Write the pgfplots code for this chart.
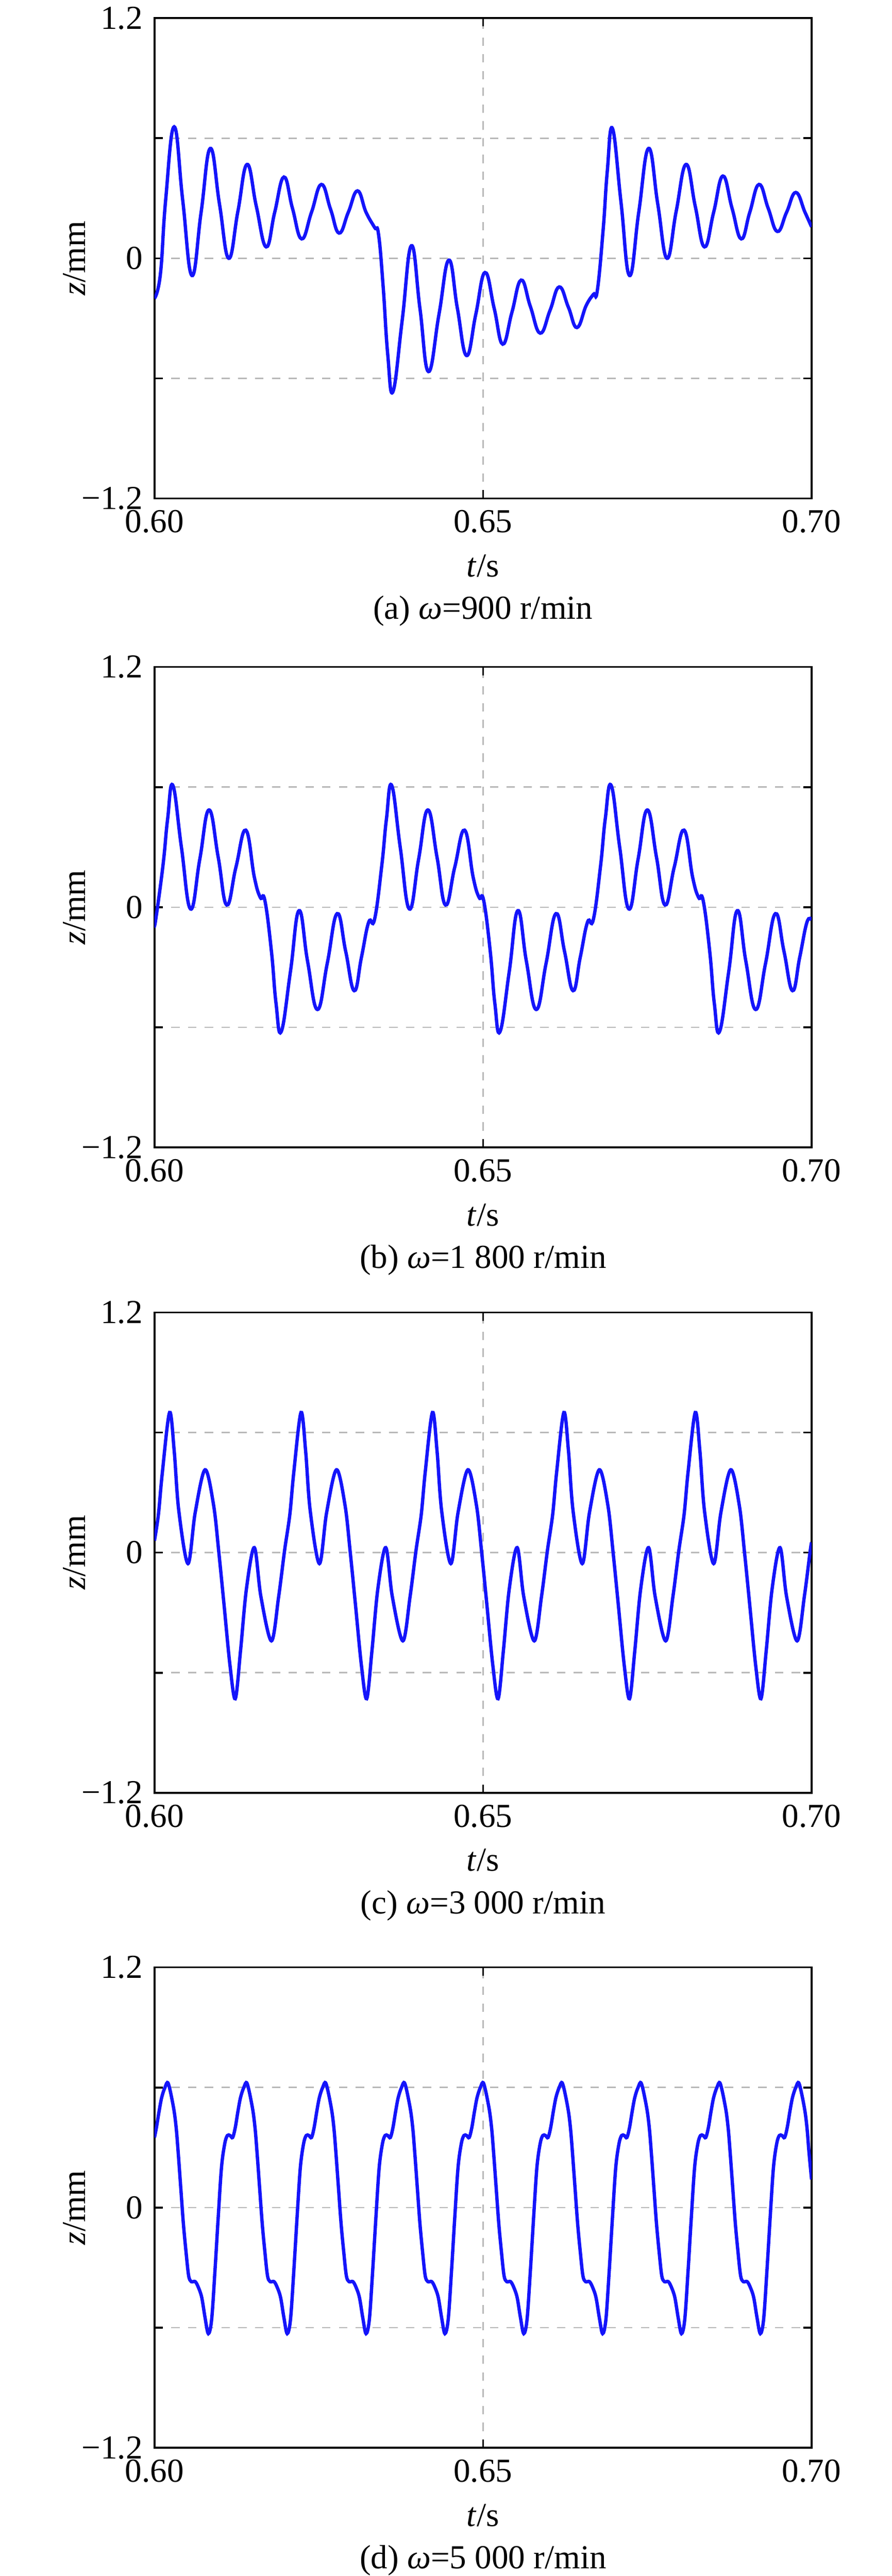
\documentclass[border=0pt]{standalone}
\usepackage{fontspec}
\setmainfont{Liberation Serif}
\usepackage{pgfplots}
\pgfplotsset{compat=1.18}
\definecolor{gridgray}{gray}{0.72}
\definecolor{curve}{rgb}{0.08,0.08,0.98}
\pgfplotsset{
 panel/.style={
  scale only axis, width=195.9pt, height=143.25pt,
  xmin=0.6, xmax=0.7, ymin=-1.2, ymax=1.2,
  xtick={0.6,0.65,0.7}, xticklabels={0.60,0.65,0.70},
  ytick={-1.2,-0.6,0,0.6,1.2}, yticklabels={−1.2,,0,,1.2},
  grid=major,
  grid style={gridgray, line width=0.4pt, dash pattern=on 2.5pt off 2.5pt},
  axis line style={line width=0.55pt},
  every tick/.style={black, line width=0.55pt},
  major tick length=2.5pt,
  /pgf/number format/assume math mode=true,
  xlabel={\textit{t}/s}, ylabel={\textit{z}/mm},
  xlabel style={at={(axis description cs:0.5,-0.1403)}, anchor=center},
  ylabel style={at={(axis description cs:-0.1215,0.5)}, anchor=center},
  title style={at={(axis description cs:0.5,-0.2346)}, anchor=center, yshift=-6pt},
 },
 wave/.style={curve, line width=1.0pt, smooth, tension=0.75},
 wavec/.style={curve, line width=1.0pt, smooth, tension=0.55},
}
\begin{document}
\begin{tikzpicture}
\path[use as bounding box] (0,0) rectangle (265.8pt,-768.15pt);

% (a)
\begin{axis}[panel, at={(46.05pt,-5.4pt)}, anchor=north west,
  title={(a) \textit{ω}=900 r/min}]
\addplot[wave] table {
t z
0.6000 -0.20
0.6009 -0.08
0.6017 0.29
0.6030 0.657
0.6043 0.29
0.6057 -0.086
0.6071 0.23
0.6085 0.549
0.6099 0.27
0.6113 0.0
0.6127 0.235
0.6141 0.469
0.6155 0.26
0.6170 0.057
0.6183 0.23
0.6197 0.406
0.6210 0.25
0.6224 0.097
0.6239 0.23
0.6254 0.369
0.6268 0.245
0.6281 0.126
0.6295 0.23
0.6309 0.337
0.6322 0.23
0.6335 0.154
0.6341 0.12
0.6348 -0.14
0.6355 -0.48
0.6363 -0.666
0.6377 -0.31
0.6391 0.063
0.6404 -0.25
0.6417 -0.566
0.6433 -0.28
0.6448 -0.009
0.6461 -0.25
0.6475 -0.486
0.6489 -0.28
0.6503 -0.071
0.6517 -0.25
0.6530 -0.429
0.6544 -0.27
0.6558 -0.109
0.6572 -0.24
0.6587 -0.374
0.6602 -0.26
0.6616 -0.143
0.6630 -0.245
0.6643 -0.346
0.6657 -0.236
0.6668 -0.18
0.6674 -0.16
0.6683 0.15
0.6689 0.43
0.6697 0.649
0.6710 0.28
0.6723 -0.086
0.6737 0.23
0.6752 0.549
0.6766 0.27
0.6780 0.0
0.6794 0.235
0.6809 0.469
0.6823 0.26
0.6837 0.057
0.6851 0.23
0.6865 0.411
0.6879 0.25
0.6893 0.097
0.6906 0.23
0.6920 0.369
0.6934 0.25
0.6948 0.134
0.6962 0.23
0.6976 0.329
0.6990 0.23
0.7000 0.157
};
\end{axis}

% (b)
\begin{axis}[panel, at={(46.05pt,-198.9pt)}, anchor=north west,
  title={(b) \textit{ω}=1 800 r/min}]
\addplot[wave] table {
t z
0.6000 -0.08
0.6002 -0.06
0.6013 0.21
0.6020 0.44
0.6028 0.609
0.6041 0.30
0.6055 -0.009
0.6069 0.24
0.6083 0.486
0.6097 0.25
0.6110 0.011
0.6124 0.20
0.6139 0.385
0.6152 0.15
0.6161 0.049
0.6168 0.034
0.6178 -0.22
0.6185 -0.48
0.6193 -0.621
0.6207 -0.32
0.6220 -0.017
0.6233 -0.27
0.6248 -0.511
0.6263 -0.28
0.6278 -0.032
0.6291 -0.22
0.6304 -0.417
0.6315 -0.25
0.6326 -0.075
0.6335 -0.06
0.6346 0.21
0.6353 0.44
0.6361 0.609
0.6374 0.30
0.6388 -0.009
0.6402 0.24
0.6416 0.486
0.6430 0.25
0.6443 0.011
0.6457 0.20
0.6472 0.385
0.6485 0.15
0.6494 0.049
0.6501 0.034
0.6511 -0.22
0.6518 -0.48
0.6526 -0.621
0.6540 -0.32
0.6553 -0.017
0.6566 -0.27
0.6581 -0.511
0.6596 -0.28
0.6611 -0.032
0.6624 -0.22
0.6637 -0.417
0.6648 -0.25
0.6659 -0.075
0.6668 -0.06
0.6679 0.21
0.6686 0.44
0.6695 0.609
0.6708 0.30
0.6722 -0.009
0.6736 0.24
0.6750 0.486
0.6764 0.25
0.6777 0.011
0.6791 0.20
0.6806 0.385
0.6819 0.15
0.6828 0.049
0.6835 0.034
0.6845 -0.22
0.6852 -0.48
0.6860 -0.621
0.6874 -0.32
0.6887 -0.017
0.6900 -0.27
0.6915 -0.511
0.6930 -0.28
0.6945 -0.032
0.6958 -0.22
0.6971 -0.417
0.6982 -0.25
0.6993 -0.075
0.7000 -0.065
};
\end{axis}

% (c)
\begin{axis}[panel, at={(46.05pt,-391.35pt)}, anchor=north west,
  title={(c) \textit{ω}=3 000 r/min}]
\addplot[wavec] table {
t z
0.6000 0.06
0.6006 0.19
0.6012 0.40
0.6023 0.70
0.6030 0.51
0.6037 0.21
0.6051 -0.055
0.6062 0.20
0.6077 0.414
0.6090 0.237
0.6098 0.0
0.6106 -0.264
0.6115 -0.565
0.6123 -0.73
0.6131 -0.49
0.6140 -0.18
0.6152 0.025
0.6162 -0.22
0.6178 -0.441
0.6189 -0.22
0.6198 0.01
0.6206 0.19
0.6212 0.40
0.6223 0.70
0.6230 0.51
0.6237 0.21
0.6251 -0.055
0.6262 0.20
0.6277 0.414
0.6290 0.237
0.6298 0.0
0.6306 -0.264
0.6315 -0.565
0.6323 -0.73
0.6331 -0.49
0.6340 -0.18
0.6352 0.025
0.6362 -0.22
0.6378 -0.441
0.6389 -0.22
0.6398 0.01
0.6406 0.19
0.6412 0.40
0.6423 0.70
0.6430 0.51
0.6437 0.21
0.6451 -0.055
0.6462 0.20
0.6477 0.414
0.6490 0.237
0.6498 0.0
0.6506 -0.264
0.6515 -0.565
0.6523 -0.73
0.6531 -0.49
0.6540 -0.18
0.6552 0.025
0.6562 -0.22
0.6578 -0.441
0.6589 -0.22
0.6598 0.01
0.6606 0.19
0.6612 0.40
0.6623 0.70
0.6630 0.51
0.6637 0.21
0.6651 -0.055
0.6662 0.20
0.6677 0.414
0.6690 0.237
0.6698 0.0
0.6706 -0.264
0.6715 -0.565
0.6723 -0.73
0.6731 -0.49
0.6740 -0.18
0.6752 0.025
0.6762 -0.22
0.6778 -0.441
0.6789 -0.22
0.6798 0.01
0.6806 0.19
0.6812 0.40
0.6823 0.70
0.6830 0.51
0.6837 0.21
0.6851 -0.055
0.6862 0.20
0.6877 0.414
0.6890 0.237
0.6898 0.0
0.6906 -0.264
0.6915 -0.565
0.6923 -0.73
0.6931 -0.49
0.6940 -0.18
0.6952 0.025
0.6962 -0.22
0.6978 -0.441
0.6989 -0.22
0.6998 0.01
0.7000 0.05
};
\end{axis}

% (d)
\begin{axis}[panel, at={(46.05pt,-586.65pt)}, anchor=north west,
  title={(d) \textit{ω}=5 000 r/min}]
\addplot[wavec] table {
t z
0.6000 0.35
0.6003 0.40
0.6007 0.48
0.6011 0.55
0.6016 0.60
0.6021 0.62
0.6029 0.50
0.6033 0.40
0.6036 0.28
0.6040 0.10
0.6044 -0.08
0.6048 -0.22
0.6052 -0.34
0.6056 -0.37
0.6062 -0.37
0.6067 -0.40
0.6072 -0.45
0.6077 -0.55
0.6082 -0.63
0.6087 -0.56
0.6092 -0.32
0.6097 -0.05
0.6102 0.20
0.6107 0.32
0.6111 0.36
0.6115 0.36
0.6119 0.35
0.6123 0.40
0.6127 0.48
0.6131 0.55
0.6136 0.60
0.6141 0.62
0.6149 0.50
0.6153 0.40
0.6156 0.28
0.6160 0.10
0.6164 -0.08
0.6168 -0.22
0.6172 -0.34
0.6176 -0.37
0.6182 -0.37
0.6187 -0.40
0.6192 -0.45
0.6197 -0.55
0.6202 -0.63
0.6207 -0.56
0.6212 -0.32
0.6217 -0.05
0.6222 0.20
0.6227 0.32
0.6231 0.36
0.6235 0.36
0.6239 0.35
0.6243 0.40
0.6247 0.48
0.6251 0.55
0.6256 0.60
0.6261 0.62
0.6269 0.50
0.6273 0.40
0.6276 0.28
0.6280 0.10
0.6284 -0.08
0.6288 -0.22
0.6292 -0.34
0.6296 -0.37
0.6302 -0.37
0.6307 -0.40
0.6312 -0.45
0.6317 -0.55
0.6322 -0.63
0.6327 -0.56
0.6332 -0.32
0.6337 -0.05
0.6342 0.20
0.6347 0.32
0.6351 0.36
0.6355 0.36
0.6359 0.35
0.6363 0.40
0.6367 0.48
0.6371 0.55
0.6376 0.60
0.6381 0.62
0.6389 0.50
0.6393 0.40
0.6396 0.28
0.6400 0.10
0.6404 -0.08
0.6408 -0.22
0.6412 -0.34
0.6416 -0.37
0.6422 -0.37
0.6427 -0.40
0.6432 -0.45
0.6437 -0.55
0.6442 -0.63
0.6447 -0.56
0.6452 -0.32
0.6457 -0.05
0.6462 0.20
0.6467 0.32
0.6471 0.36
0.6475 0.36
0.6479 0.35
0.6483 0.40
0.6487 0.48
0.6491 0.55
0.6496 0.60
0.6501 0.62
0.6509 0.50
0.6513 0.40
0.6516 0.28
0.6520 0.10
0.6524 -0.08
0.6528 -0.22
0.6532 -0.34
0.6536 -0.37
0.6542 -0.37
0.6547 -0.40
0.6552 -0.45
0.6557 -0.55
0.6562 -0.63
0.6567 -0.56
0.6572 -0.32
0.6577 -0.05
0.6582 0.20
0.6587 0.32
0.6591 0.36
0.6595 0.36
0.6599 0.35
0.6603 0.40
0.6607 0.48
0.6611 0.55
0.6616 0.60
0.6621 0.62
0.6629 0.50
0.6633 0.40
0.6636 0.28
0.6640 0.10
0.6644 -0.08
0.6648 -0.22
0.6652 -0.34
0.6656 -0.37
0.6662 -0.37
0.6667 -0.40
0.6672 -0.45
0.6677 -0.55
0.6682 -0.63
0.6687 -0.56
0.6692 -0.32
0.6697 -0.05
0.6702 0.20
0.6707 0.32
0.6711 0.36
0.6715 0.36
0.6719 0.35
0.6723 0.40
0.6727 0.48
0.6731 0.55
0.6736 0.60
0.6741 0.62
0.6749 0.50
0.6753 0.40
0.6756 0.28
0.6760 0.10
0.6764 -0.08
0.6768 -0.22
0.6772 -0.34
0.6776 -0.37
0.6782 -0.37
0.6787 -0.40
0.6792 -0.45
0.6797 -0.55
0.6802 -0.63
0.6807 -0.56
0.6812 -0.32
0.6817 -0.05
0.6822 0.20
0.6827 0.32
0.6831 0.36
0.6835 0.36
0.6839 0.35
0.6843 0.40
0.6847 0.48
0.6851 0.55
0.6856 0.60
0.6861 0.62
0.6869 0.50
0.6873 0.40
0.6876 0.28
0.6880 0.10
0.6884 -0.08
0.6888 -0.22
0.6892 -0.34
0.6896 -0.37
0.6902 -0.37
0.6907 -0.40
0.6912 -0.45
0.6917 -0.55
0.6922 -0.63
0.6927 -0.56
0.6932 -0.32
0.6937 -0.05
0.6942 0.20
0.6947 0.32
0.6951 0.36
0.6955 0.36
0.6959 0.35
0.6963 0.40
0.6967 0.48
0.6971 0.55
0.6976 0.60
0.6981 0.62
0.6989 0.50
0.6993 0.40
0.6996 0.28
0.7000 0.14
};
\end{axis}
\end{tikzpicture}
\end{document}
